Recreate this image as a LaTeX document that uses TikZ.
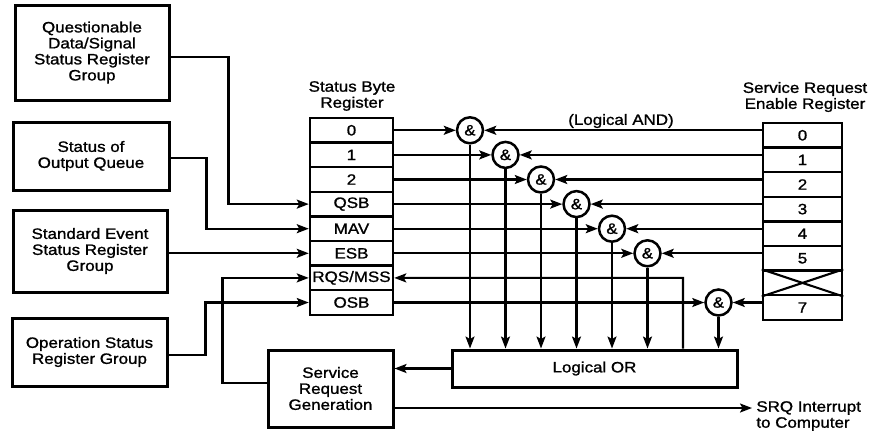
\documentclass[tikz,border=0pt]{standalone}
\usepackage{fontspec}
\setmainfont{Liberation Sans}[FakeStretch=1.13,FakeBold=1.2]
\usetikzlibrary{arrows.meta}

\begin{document}
\begin{tikzpicture}[x=1pt,y=-1pt,line width=2.1pt,
    >={Stealth[length=12pt,width=9pt,inset=2.5pt]},
    txt/.style={font=\fontsize{15}{16}\selectfont},
    box/.style={txt,draw,line width=3pt,align=center,inner sep=0pt},
    cell/.style={txt,draw,line width=2.5pt,minimum width=83pt,minimum height=24.6pt,inner sep=0pt},
    gate/.style={txt,circle,draw,line width=2.5pt,minimum size=26pt,inner sep=0pt,fill=white}]
  \useasboundingbox (0,0) rectangle (874,439);
  % input groups
  \node[box,minimum width=154pt,minimum height=95pt] (qdss) at (92,52.5)
    {Questionable\\Data/Signal\\Status Register\\Group};
  \node[box,minimum width=156pt,minimum height=68pt] (soq) at (91,156)
    {Status of\\Output Queue};
  \node[box,minimum width=154pt,minimum height=82pt] (ses) at (90,251)
    {Standard Event\\Status Register\\Group};
  \node[box,minimum width=155pt,minimum height=68pt] (osr) at (89.5,352)
    {Operation Status\\Register Group};
  % registers
  \node[txt,align=center] (sbtitle) at (352,96) {Status Byte\\Register};
  \foreach \t [count=\i from 0] in {0,1,2,QSB,MAV,ESB,{RQS/MSS},OSB}
    \node[cell] (sb\i) at (351.5,130.3+24.6*\i) {\t};
  \node[txt,align=center] (sretitle) at (805,97) {Service Request\\Enable Register};
  \foreach \t [count=\i from 0] in {0,1,2,3,4,5,{},7}
    \node[cell,minimum width=79pt] (sre\i) at (802.5,135.3+24.6*\i) {\t};
  \draw (sre6.north west) -- (sre6.south east) (sre6.south west) -- (sre6.north east);
  \node[txt] (andlbl) at (621,121) {(Logical AND)};
  % logic
  \node[box,minimum width=285pt,minimum height=37pt] (logor) at (594.5,368.5) {Logical OR};
  \node[box,minimum width=125pt,minimum height=77pt] (srg) at (330.5,388.5)
    {Service\\Request\\Generation};
  \foreach \i in {0,...,5,7}
    \node[gate] (g\i) at (470+35.5*\i,130.3+24.6*\i) {\&};
  \coordinate (g6) at (683,277.9);
  \foreach \i in {0,...,5,7} {
    \draw[->] (sb\i.east) -- (g\i);
    \draw[->] (g\i -| sre\i.west) -- (g\i);
    \draw[->] (g\i) -- (g\i |- logor.north);
  }
  \draw[->] (g6 |- logor.north) -- (g6) -- (sb6.east);
  % inputs to status byte
  \draw[->] ([yshift=-4.5pt]qdss.east) -- ++(58,0) |- (sb3.west);
  \draw[->] ([yshift=-2pt]soq.east) -- ++(36,0) |- (sb4.west);
  \draw[->] (ses.east |- sb5) -- (sb5.west);
  \draw[->] ([yshift=-3pt]osr.east) -- ++(37,0) |- (sb7.west);
  % service request
  \draw[->] (logor.west) -- (logor.west -| srg.east);
  \draw[->] ([yshift=5.5pt]srg.west) -- ++(-44,0) |- (sb6.west);
  \node[txt,anchor=west,align=left] (srq) at (752,416) {SRQ Interrupt\\to Computer};
  \coordinate (srqin) at (752,408);
  \draw[->] (srqin -| srg.east) -- (srqin);
\end{tikzpicture}
\end{document}
